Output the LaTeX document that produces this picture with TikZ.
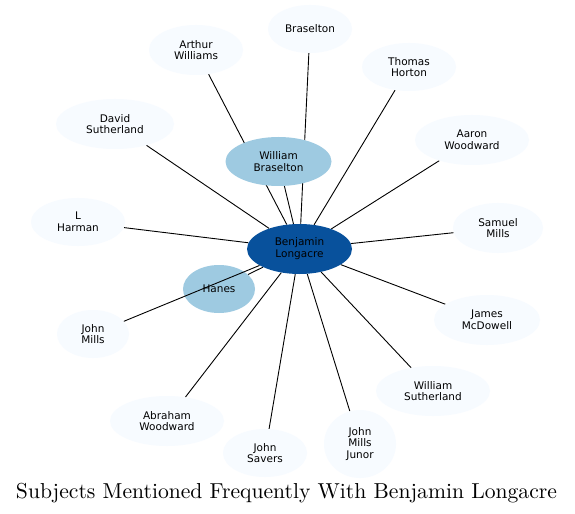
\documentclass[tikz,border=0pt]{standalone}
\usepackage{fontspec}
\setsansfont{DejaVu Sans}
\usetikzlibrary{shapes.geometric,backgrounds}
\definecolor{outerfill}{HTML}{F7FBFF}
\definecolor{midfill}{HTML}{9ECAE1}
\definecolor{centerfill}{HTML}{08519C}
\tikzset{
  nd/.style={ellipse, inner sep=0pt, align=center, text=black,
    font=\sffamily\fontsize{10.5bp}{11.8bp}\selectfont},
  outer/.style={nd, fill=outerfill},
  mid/.style={nd, fill=midfill},
  ctr/.style={nd, fill=centerfill},
  link/.style={draw=black, line width=0.9bp},
  titletext/.style={inner sep=0pt, anchor=base},
}
\begin{document}
\begin{tikzpicture}[x=1bp,y=-1bp]
\useasboundingbox (0,0) rectangle (575,514);
\path
  node[ctr, minimum width=105bp, minimum height=50bp] (BL) at (299.5,249) {Benjamin\\Longacre}
  node[outer, minimum width=84bp, minimum height=48bp] (BR) at (310,29) {Braselton}
  node[outer, minimum width=94bp, minimum height=50bp] (AW) at (196,50) {Arthur\\Williams}
  node[outer, minimum width=94bp, minimum height=48bp] (TH) at (409,67) {Thomas\\Horton}
  node[outer, minimum width=118bp, minimum height=50bp] (DS) at (115,124) {David\\Sutherland}
  node[outer, minimum width=114bp, minimum height=50bp] (AaW) at (472,140) {Aaron\\Woodward}
  node[mid, minimum width=106bp, minimum height=49bp] (WB) at (278.5,161.5) {William\\Braselton}
  node[outer, minimum width=94bp, minimum height=48bp] (LH) at (78,222) {L\\Harman}
  node[outer, minimum width=90bp, minimum height=50bp] (SM) at (498,228) {Samuel\\Mills}
  node[mid, minimum width=72bp, minimum height=48bp] (HA) at (219,289) {Hanes}
  node[outer, minimum width=72bp, minimum height=48bp] (JM) at (93,334) {John\\Mills}
  node[outer, minimum width=106bp, minimum height=50bp] (JMD) at (487,320) {James\\McDowell}
  node[outer, minimum width=114bp, minimum height=50bp] (WS) at (433,391) {William\\Sutherland}
  node[outer, minimum width=114bp, minimum height=50bp] (AbW) at (167,421) {Abraham\\Woodward}
  node[outer, minimum width=84bp, minimum height=48bp] (JS) at (265,453) {John\\Savers}
  node[outer, minimum width=72bp, minimum height=68bp] (JMJ) at (360,444) {John\\Mills\\Junor};
\node[titletext] (title) at (286.5,498) {\resizebox{541bp}{!}{Subjects Mentioned Frequently With Benjamin Longacre}};
\begin{scope}[on background layer]
  \fill[white] (0,0) rectangle (575,514);
  \foreach \t in {BR,AW,TH,DS,AaW,WB,LH,SM,HA,JMD,WS,AbW,JS,JMJ}
    \draw[link] (BL) -- (\t);
\end{scope}
\draw[link] (BL) -- (JM);
\end{tikzpicture}
\end{document}
